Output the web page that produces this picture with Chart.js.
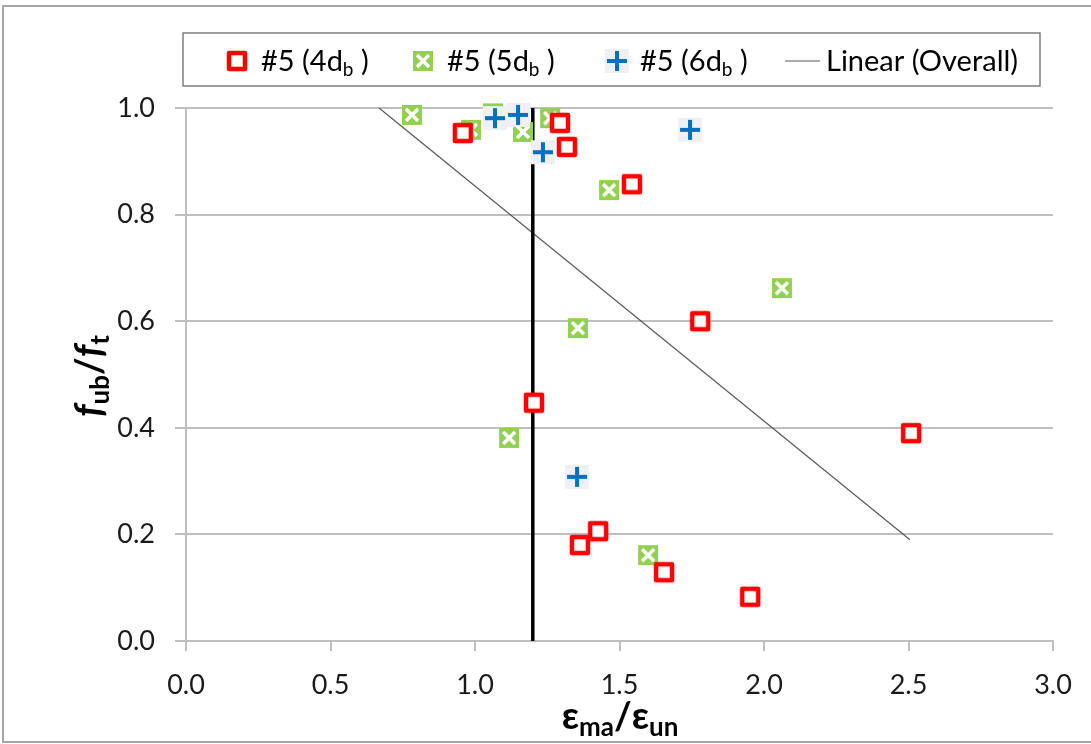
<!DOCTYPE html>
<html>
<head>
<meta charset="utf-8">
<script src="https://cdn.jsdelivr.net/npm/chart.js@4"></script>
<style>
html,body{margin:0;padding:0;background:#fff;}
#wrap{position:relative;width:1091px;height:744px;}
canvas{display:block;}
</style>
</head>
<body>
<div id="wrap"><canvas id="c" width="1091" height="744"></canvas></div>
<script>
// ---- data ----
const seriesNames = ['#5 (4d', '#5 (5d', '#5 (6d', 'Linear (Overall)'];
const s4x = [0.958, 1.294, 1.318, 1.543, 1.779, 1.204, 2.509, 1.426, 1.363, 1.654, 1.952];
const s4y = [0.953, 0.972, 0.927, 0.857, 0.600, 0.447, 0.390, 0.206, 0.180, 0.129, 0.083];
const s5x = [0.782, 0.986, 1.062, 1.166, 1.260, 1.464, 2.062, 1.356, 1.118, 1.599];
const s5y = [0.987, 0.959, 0.990, 0.955, 0.981, 0.846, 0.662, 0.587, 0.381, 0.161];
const s6x = [1.069, 1.149, 1.235, 1.744, 1.353];
const s6y = [0.981, 0.987, 0.917, 0.959, 0.308];
const trendX = [0.668, 2.505];
const trendY = [1.0, 0.19];
const limitX = [1.2, 1.2];
const limitY = [0.0, 1.0];
const xTicks = [0.0, 0.5, 1.0, 1.5, 2.0, 2.5, 3.0];
const yTicks = [0.0, 0.2, 0.4, 0.6, 0.8, 1.0];

const pts = (xs, ys) => xs.map((x, i) => ({x: x, y: ys[i]}));

// ---- marker images ----
function mk(size, draw) {
  const c = document.createElement('canvas');
  c.width = size; c.height = size;
  draw(c.getContext('2d'), size);
  return c;
}
const redSq = mk(24, (g, s) => {
  g.fillStyle = '#fff'; g.fillRect(3, 3, 18, 18);
  g.strokeStyle = '#ff0000'; g.lineWidth = 4.5; g.lineJoin = 'round';
  g.strokeRect(4, 4, 16, 16);
});
const greenX = mk(22, (g, s) => {
  g.fillStyle = '#92d050'; g.fillRect(1, 1, 20, 20);
  g.strokeStyle = '#fff'; g.lineWidth = 3.5;
  g.beginPath(); g.moveTo(5, 5); g.lineTo(17, 17); g.moveTo(17, 5); g.lineTo(5, 17); g.stroke();
});
const bluePlus = mk(26, (g, s) => {
  g.fillStyle = '#eef0f3'; g.fillRect(1, 1, 24, 24);
  g.strokeStyle = '#0070c0'; g.lineWidth = 4;
  g.beginPath(); g.moveTo(3, 13); g.lineTo(23, 13); g.moveTo(13, 3); g.lineTo(13, 23); g.stroke();
});

const FONT = 'Lato, "Open Sans", sans-serif';

function drawRich(ctx, parts, x, y, align) {
  let w = 0;
  parts.forEach(p => { ctx.font = p.font; p.w = ctx.measureText(p.t).width; w += p.w; });
  let cx = align === 'center' ? x - w / 2 : x;
  parts.forEach(p => {
    ctx.font = p.font;
    ctx.fillText(p.t, cx, y + (p.dy || 0));
    cx += p.w;
  });
  return w;
}

const decor = {
  id: 'decor',
  beforeDraw(chart) {
    const ctx = chart.ctx;
    ctx.save();
    ctx.fillStyle = '#fff';
    ctx.fillRect(0, 0, 1091, 744);
    ctx.strokeStyle = '#a6a6a6'; ctx.lineWidth = 2;
    ctx.strokeRect(3, 6, 1092, 736);
    ctx.restore();
  },
  afterDraw(chart) {
    const ctx = chart.ctx;
    ctx.save();
    ctx.fillStyle = '#000';
    ctx.textBaseline = 'alphabetic';
    // legend box
    ctx.strokeStyle = '#7f7f7f'; ctx.lineWidth = 1.5;
    ctx.strokeRect(183, 33, 857, 53);
    const base = 71;
    const f = '29px ' + FONT, fs = '19px ' + FONT;
    ctx.drawImage(redSq, 225, 49);
    drawRich(ctx, [{t: seriesNames[0], font: f}, {t: 'b', font: fs, dy: 5}, {t: ' )', font: f}], 261, base, 'left');
    ctx.drawImage(greenX, 412, 50);
    drawRich(ctx, [{t: seriesNames[1], font: f}, {t: 'b', font: fs, dy: 5}, {t: ' )', font: f}], 447, base, 'left');
    ctx.drawImage(bluePlus, 604, 48);
    drawRich(ctx, [{t: seriesNames[2], font: f}, {t: 'b', font: fs, dy: 5}, {t: ' )', font: f}], 640, base, 'left');
    ctx.strokeStyle = '#595959'; ctx.lineWidth = 1.2;
    ctx.beginPath(); ctx.moveTo(785, 61); ctx.lineTo(820, 61); ctx.stroke();
    ctx.font = f; ctx.fillText(seriesNames[3], 826, base);

    // x axis title
    const bf = 'bold 38px ' + FONT, bs = 'bold 26px ' + FONT;
    drawRich(ctx, [{t: 'ε', font: bf}, {t: 'ma', font: bs, dy: 7}, {t: '/', font: bf}, {t: 'ε', font: bf}, {t: 'un', font: bs, dy: 7}], 620, 729, 'center');

    // y axis title
    ctx.translate(102, 376);
    ctx.rotate(-Math.PI / 2);
    const fi = 'italic bold 38px ' + FONT, fsb = 'bold 26px ' + FONT, fb = 'bold 38px ' + FONT;
    drawRich(ctx, [{t: 'f', font: fi}, {t: 'ub', font: fsb, dy: 7}, {t: '/', font: fb}, {t: 'f', font: fi}, {t: 't', font: fsb, dy: 7}], 0, 0, 'center');
    ctx.restore();
  }
};

new Chart(document.getElementById('c'), {
  type: 'scatter',
  data: {
    datasets: [
      {label: seriesNames[0], data: pts(s4x, s4y), pointStyle: redSq, pointRadius: 12, order: 1, clip: false, showLine: false},
      {label: seriesNames[1], data: pts(s5x, s5y), pointStyle: greenX, pointRadius: 11, order: 2, clip: false, showLine: false},
      {label: seriesNames[2], data: pts(s6x, s6y), pointStyle: bluePlus, pointRadius: 13, order: 0, clip: false, showLine: false},
      {label: seriesNames[3], data: pts(trendX, trendY), showLine: true, borderColor: '#595959', borderWidth: 1.2, pointRadius: 0, order: 10, clip: false},
      {label: 'limit', data: pts(limitX, limitY), showLine: true, borderColor: '#000', borderWidth: 3.5, pointRadius: 0, order: 9, clip: false}
    ]
  },
  options: {
    responsive: false,
    animation: false,
    events: [],
    layout: {padding: {left: 0, top: 108, right: 38, bottom: 0}},
    plugins: {legend: {display: false}, tooltip: {enabled: false}, title: {display: false}},
    scales: {
      x: {
        type: 'linear', min: 0, max: 3,
        afterFit(s) { s.height = 103; },
        afterBuildTicks(s) { s.ticks = xTicks.map(v => ({value: v})); },
        grid: {drawOnChartArea: false, drawTicks: true, tickLength: 10, color: '#bfbfbf', lineWidth: 2},
        border: {display: true, color: '#bfbfbf', width: 2},
        ticks: {padding: 18, color: '#1a1a1a', font: {family: FONT, size: 27}, callback: v => v.toFixed(1), maxRotation: 0}
      },
      y: {
        type: 'linear', min: 0, max: 1,
        afterFit(s) { s.width = 186; },
        afterBuildTicks(s) { s.ticks = yTicks.map(v => ({value: v})); },
        grid: {drawOnChartArea: true, drawTicks: true, tickLength: 11, color: '#bfbfbf', lineWidth: 2},
        border: {display: true, color: '#bfbfbf', width: 2},
        ticks: {padding: 20, color: '#1a1a1a', font: {family: FONT, size: 27}, callback: v => v.toFixed(1)}
      }
    }
  },
  plugins: [decor]
});
</script>
</body>
</html>
